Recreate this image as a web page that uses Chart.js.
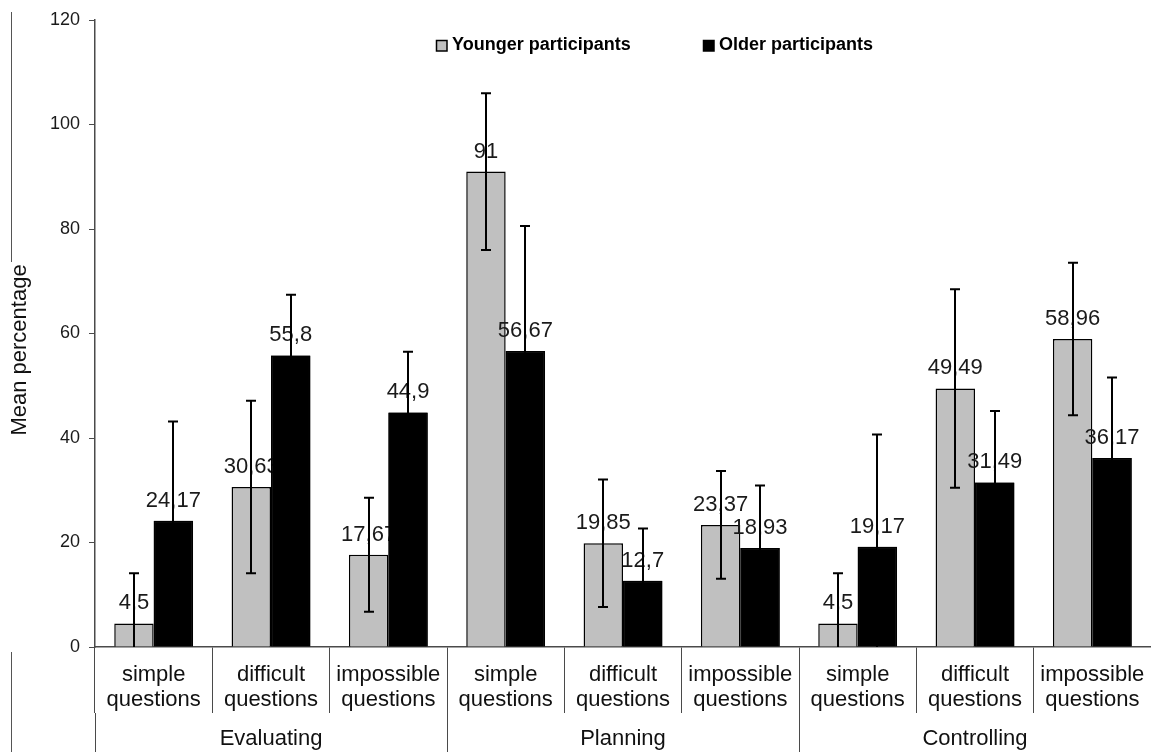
<!DOCTYPE html>
<html>
<head>
<meta charset="utf-8">
<script src="https://cdn.jsdelivr.net/npm/chart.js@4.4.0/dist/chart.umd.min.js"></script>
<style>
html,body{margin:0;padding:0;background:#ffffff;}
#wrap{width:1151px;height:752px;position:relative;}
</style>
</head>
<body>
<div id="wrap"><canvas id="c" width="1151" height="752"></canvas></div>
<script>
// ---- data ----
const categories = [
  ['simple','questions'], ['difficult','questions'], ['impossible','questions'],
  ['simple','questions'], ['difficult','questions'], ['impossible','questions'],
  ['simple','questions'], ['difficult','questions'], ['impossible','questions']
];
const groups = ['Evaluating', 'Planning', 'Controlling'];
const seriesNames = ['Younger participants', 'Older participants'];
const younger = [4.5, 30.63, 17.67, 91, 19.85, 23.37, 4.5, 49.49, 58.96];
const older = [24.17, 55.8, 44.9, 56.67, 12.7, 18.93, 19.17, 31.49, 36.17];
const youngerErr = [9.6, 16.5, 10.9, 15.0, 12.2, 10.3, 9.6, 19.0, 14.6];
const olderErr = [19.0, 11.6, 11.6, 23.9, 10.0, 12.0, 21.5, 13.7, 15.4];
const yTicks = [0, 20, 40, 60, 80, 100, 120];
const yTitle = 'Mean percentage';

const FONT = '"Liberation Sans", Arial, Helvetica, sans-serif';
const AXIS_COLOR = '#4a4a4a';

function drawLabels(chart, di) {
  const ctx = chart.ctx;
  const ds = chart.data.datasets[di];
  const meta = chart.getDatasetMeta(di);
  ctx.save();
  ctx.font = '22px ' + FONT;
  ctx.fillStyle = '#1a1a1a';
  ctx.textAlign = 'center';
  ctx.textBaseline = 'alphabetic';
  meta.data.forEach((bar, i) => {
    ctx.fillText(String(ds.data[i]).replace('.', ','), bar.x, bar.y - 14);
  });
  ctx.restore();
}

const deco = {
  id: 'deco',
  afterDatasetsDraw(chart) {
    const ctx = chart.ctx;
    const area = chart.chartArea;
    // labels of younger series, then older bars on top of them, then older labels
    drawLabels(chart, 0);
    ctx.save();
    chart.getDatasetMeta(1).data.forEach(el => el.draw(ctx, area));
    ctx.restore();
    drawLabels(chart, 1);
    // error bars
    const ys = chart.scales.y;
    ctx.save();
    ctx.beginPath();
    ctx.rect(area.left, area.top - 5, area.right - area.left, area.bottom - area.top + 5);
    ctx.clip();
    ctx.strokeStyle = '#000';
    ctx.lineWidth = 2;
    chart.data.datasets.forEach((ds, di) => {
      const meta = chart.getDatasetMeta(di);
      meta.data.forEach((bar, i) => {
        const v = ds.data[i], e = ds.errors[i];
        const top = ys.getPixelForValue(v + e);
        const low = v - e;
        const bot = ys.getPixelForValue(Math.max(0, low));
        const x = Math.round(bar.x);
        ctx.beginPath();
        ctx.moveTo(x, top); ctx.lineTo(x, bot);
        ctx.moveTo(x - 5, top); ctx.lineTo(x + 5, top);
        if (low > 0) { ctx.moveTo(x - 5, bot); ctx.lineTo(x + 5, bot); }
        ctx.stroke();
      });
    });
    ctx.restore();
  },
  afterDraw(chart) {
    const ctx = chart.ctx;
    ctx.save();
    // legend
    const items = [
      {x: 436, ds: chart.data.datasets[0]},
      {x: 703, ds: chart.data.datasets[1]}
    ];
    ctx.font = 'bold 18px ' + FONT;
    ctx.textBaseline = 'alphabetic';
    ctx.textAlign = 'left';
    items.forEach(it => {
      ctx.fillStyle = it.ds.backgroundColor;
      ctx.fillRect(it.x, 40, 11, 11);
      ctx.strokeStyle = '#000';
      ctx.lineWidth = 1.5;
      ctx.strokeRect(it.x + 0.5, 40.5, 10.5, 10.5);
      ctx.fillStyle = '#000';
      ctx.fillText(it.ds.label, it.x + 16, 50);
    });
    // y title
    ctx.save();
    ctx.translate(20, 350);
    ctx.rotate(-Math.PI / 2);
    ctx.font = '22px ' + FONT;
    ctx.fillStyle = '#111';
    ctx.textAlign = 'center';
    ctx.textBaseline = 'middle';
    ctx.fillText(yTitle, 0, 0);
    ctx.restore();
    // scan edge lines
    ctx.strokeStyle = '#555';
    ctx.lineWidth = 1;
    ctx.beginPath();
    ctx.moveTo(11.5, 12); ctx.lineTo(11.5, 262);
    ctx.moveTo(11.5, 652); ctx.lineTo(11.5, 752);
    ctx.stroke();
    ctx.restore();
  }
};

new Chart(document.getElementById('c'), {
  type: 'bar',
  data: {
    labels: categories,
    datasets: [
      {
        label: seriesNames[0], data: younger, errors: youngerErr,
        backgroundColor: '#c0c0c0', borderColor: '#000', borderWidth: 1.5,
        xAxisID: 'x', yAxisID: 'y'
      },
      {
        label: seriesNames[1], data: older, errors: olderErr,
        backgroundColor: '#000', borderColor: '#000', borderWidth: 1.5,
        xAxisID: 'x', yAxisID: 'y'
      }
    ]
  },
  options: {
    responsive: false,
    animation: false,
    devicePixelRatio: 1,
    layout: {padding: {top: 20, right: 0, bottom: 0, left: 0}},
    datasets: {bar: {categoryPercentage: 0.672, barPercentage: 1.0}},
    plugins: {legend: {display: false}, tooltip: {enabled: false}, title: {display: false}},
    scales: {
      y: {
        min: 0, max: 120,
        afterBuildTicks: s => { s.ticks = yTicks.map(v => ({value: v})); },
        afterFit: s => { s.width = 95; },
        grid: {drawOnChartArea: false, drawTicks: true, tickLength: 6, color: AXIS_COLOR, lineWidth: 1},
        border: {display: true, color: AXIS_COLOR, width: 1.5},
        ticks: {font: {size: 18, family: FONT}, color: '#1a1a1a', padding: 9}
      },
      x: {
        type: 'category', position: 'bottom', weight: 0, offset: true,
        afterFit: s => { s.height = 66; },
        grid: {drawOnChartArea: false, drawTicks: true, tickLength: 66, offset: true, color: AXIS_COLOR, lineWidth: 1},
        border: {display: true, color: AXIS_COLOR, width: 1.5},
        ticks: {font: {size: 22, family: FONT, lineHeight: 1.15}, color: '#111', padding: -51, autoSkip: false, maxRotation: 0, minRotation: 0}
      },
      x2: {
        type: 'category', axis: 'x', position: 'bottom', weight: 1, offset: true,
        labels: groups,
        afterFit: s => { s.height = 39; },
        grid: {drawOnChartArea: false, drawTicks: true, tickLength: 39, offset: true, color: AXIS_COLOR, lineWidth: 1},
        border: {display: false},
        ticks: {font: {size: 22, family: FONT, lineHeight: 1.15}, color: '#111', padding: -26, autoSkip: false, maxRotation: 0, minRotation: 0}
      }
    }
  },
  plugins: [deco]
});
</script>
</body>
</html>
